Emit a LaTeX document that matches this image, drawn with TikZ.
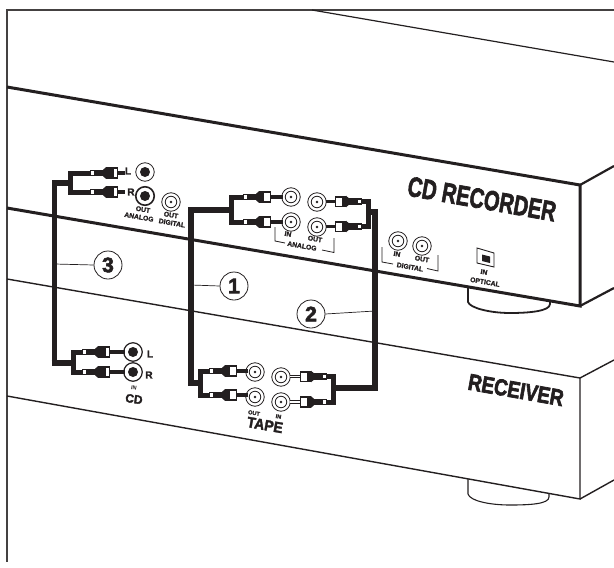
\documentclass[tikz,border=0pt]{standalone}
\usepackage{fontspec}
\setmainfont{Liberation Sans}
\definecolor{ink}{HTML}{231F20}
\newcommand{\plugpart}[5][ink]{%
  % #2 x0, #3 y, #4 direction, #5 wire length
  \begin{scope}[shift={(#2,#3)},xscale=#4]
    \fill[ink] (0,-3.2) rectangle (13,3.2);
    \fill[white] (1,-1.6) rectangle (4,1.6);
    \fill[ink] (13,-3.2) -- (16,-5.8) -- (16,5.8) -- (13,3.2) -- cycle;
    \fill[ink] (16,-5.8) rectangle (27.5,5.8);
    \fill[white] (20.5,-4) rectangle (26.5,4);
    \fill[ink] (27.5,-1.9) rectangle ({27.5+#5},1.9);
    \fill[#1] (27.5,-.7) rectangle ({27.5+#5},.7);
  \end{scope}}
\newcommand{\plugdark}[2]{\fill[ink] (#1+16,#2-5.8) rectangle (#1+24,#2+5.8);}
\newcommand{\ringjack}[2]{%
  \node[jackouter] (#1) at (#2) {};
  \node[jackinner] at (#1) {};
  \fill[ink] (#1) circle (1.4);}
\newcommand{\blackjack}[3]{%
  \node[jackouter,line width=#3] (#1) at (#2) {};
  \node[jackfill] at (#1) {};}
\newcommand{\strokeon}[1]{\special{pdf:code q 0.137 0.122 0.125 RG 2 Tr #1 w}}
\newcommand{\strokeoff}{\special{pdf:code Q}}
\tikzset{
  x=1pt,y=-1pt,
  thick text/.style={execute at begin node={\strokeon{#1}},execute at end node={\strokeoff}},
  jackouter/.style={circle,draw=ink,fill=white,line width=.8pt,minimum size=18.5pt,inner sep=0},
  jackinner/.style={circle,draw=ink,line width=.8pt,minimum size=11.5pt,inner sep=0},
  jackfill/.style={circle,fill=ink,minimum size=10pt,inner sep=0},
  frameline/.style={draw=ink!85,line width=1.6pt},
  heavy/.style={draw=ink,line width=3pt},
  medium/.style={draw=ink,line width=1.4pt},
  cable/.style={draw=ink,line width=5.6pt,line cap=butt,line join=miter},
  branch/.style={draw=ink,line width=5pt,line cap=butt,line join=miter},
  leader/.style={draw=ink,line width=.7pt},
  badge/.style={circle,draw=ink,fill=white,line width=.8pt,minimum size=28pt,inner sep=0,font=\bfseries\fontsize{21}{21}\selectfont,text=ink,thick text=.6},
  tiny/.style={inner sep=0,rotate=-10,text=ink,font=\bfseries\fontsize{6.8}{7}\selectfont,thick text=.12},
  tinier/.style={inner sep=0,rotate=-10,text=ink,font=\bfseries\fontsize{5.6}{6}\selectfont},
  brand/.style={inner sep=0,rotate=-10,text=ink,font=\bfseries,thick text=.7},
  lettermark/.style={inner sep=0,text=ink,font=\bfseries\fontsize{10}{10}\selectfont,thick text=.2},
  bracket/.style={draw=ink,line width=.8pt},
}
\begin{document}
\begin{tikzpicture}
\useasboundingbox (0,0) rectangle (614,568);
% frame
\draw[frameline] (614,10) -- (7,10) -- (7,562);
% CD recorder
\draw[draw=ink,line width=1.2pt] (312,10) -- (614,62);
\draw[heavy,line join=miter] (7,87) -- (580,185) -- (580,306) -- (7,208);
\draw[draw=ink,line width=2.2pt] (580,185) -- (614,166);
\draw[draw=ink,line width=2.2pt] (580,306) -- (614,288);
\draw[draw=ink,line width=1.8pt] (468,288) -- (468,302) .. controls (470,308) and (490,313) .. (510,313) .. controls (530,313) and (550,311) .. (550,304) -- (550,302);
% receiver
\draw[medium,line join=miter] (7,279) -- (580,378) -- (580,499) -- (7,396);
\draw[medium] (580,378) -- (614,360);
\draw[medium] (580,499) -- (614,480);
\draw[draw=ink,line width=1.1pt] (468,479) -- (468,494) .. controls (470,501) and (490,505) .. (510,505) .. controls (530,505) and (549,504) .. (549,497) -- (549,494);
% brand names
\node[brand] (cdname) at (482,199) {\fontsize{28}{28}\selectfont\scalebox{.72}[1]{CD RECORDER}};
\node[brand] (recname) at (516,390) {\fontsize{23}{23}\selectfont\scalebox{.82}[1]{RECEIVER}};
% jacks: recorder left
\blackjack{outL}{145,172}{.8pt}
\blackjack{outR}{145,196}{1.6pt}
\ringjack{outD}{171,202}
% recorder analog
\ringjack{anIa}{291,197}
\ringjack{anIb}{291,222}
\ringjack{anOa}{317,202}
\ringjack{anOb}{317,227}
% recorder digital
\ringjack{digI}{398,241}
\ringjack{digO}{422,246}
% receiver CD
\blackjack{cdL}{133,352}{1.2pt}
\blackjack{cdR}{133,372}{1.2pt}
% tape
\ringjack{tpOa}{255,372}
\ringjack{tpOb}{255,397}
\ringjack{tpIa}{281,377}
\ringjack{tpIb}{281,402}
% optical
\draw[draw=ink,line width=.9pt,fill=white] (477,248) -- (494,253) -- (494,267) -- (477,263) -- cycle;
\fill[ink] (482,254.5) -- (490,256.5) -- (490,263) -- (482,261) -- cycle;
% cable 3
\coordinate (c3top) at (54.5,183);
\coordinate (c3bot) at (54.5,363);
\coordinate (c3ta) at (70,173);
\coordinate (c3tb) at (70,192);
\coordinate (c3ba) at (73,352);
\coordinate (c3bb) at (73,372);
\draw[cable] (72,183) -- (51.7,183);
\draw[cable] (c3top) -- (c3bot);
\draw[cable] (51.7,363) -- (75,363);
\draw[branch] (91,173) -- (c3ta) -- (c3tb) -- (91,192);
\draw[branch] (83,352) -- (c3ba) -- (c3bb) -- (83,372);
\plugpart{90}{173}{1}{7}
\plugpart{90}{192}{1}{7}
\plugpart{82}{352}{1}{15}
\plugpart{82}{372}{1}{15}
\plugdark{90}{173}
\plugdark{90}{192}
\plugdark{82}{352}
\plugdark{82}{372}
% cable 1
\coordinate (c1top) at (191,210);
\coordinate (c1bot) at (191,383);
\draw[cable] (231,210) -- (c1top) -- (c1bot) -- (200,383);
\draw[branch] (244,197) -- (231,197) -- (231,222) -- (244,222);
\draw[branch] (210,371) -- (200,371) -- (200,395) -- (210,395);
\plugpart{243}{197}{1}{12}
\plugpart{243}{222}{1}{12}
\plugpart{209}{371}{1}{11}
\plugpart{209}{395}{1}{11}
% cable 2
\coordinate (c2top) at (375,212);
\coordinate (c2bot) at (375,388);
\draw[cable] (368,212) -- (c2top) -- (c2bot) -- (333,388);
\draw[branch] (361,201) -- (368,201) -- (368,226) -- (361,226);
\draw[branch] (326,376) -- (333,376) -- (333,402) -- (326,402);
\plugpart{362}{201.5}{-1}{9}
\plugpart{362}{226.5}{-1}{9}
\plugpart[white]{327}{376.5}{-1}{10}
\plugpart[white]{327}{402}{-1}{10}
% badges
\node[badge] (b3) at (108,265) {3};
\node[badge] (b1) at (234,286) {1};
\node[badge] (b2) at (311,314) {2};
\coordinate (l3) at (54.5,264);
\coordinate (l1) at (191,285);
\coordinate (l2) at (375,311);
\draw[leader] (b3.west) -- (l3);
\draw[leader] (b1.west) -- (l1);
\draw[leader] (b2.east) -- (l2);
% brackets
\coordinate (ba1) at (275,227);
\coordinate (ba2) at (275,241);
\coordinate (ba3) at (285,243);
\coordinate (ba4) at (322,250);
\coordinate (ba5) at (334,252.5);
\coordinate (ba6) at (334,238);
\draw[bracket] (ba1) -- (ba2) -- (ba3);
\draw[bracket] (ba4) -- (ba5) -- (ba6);
\coordinate (bd1) at (382,247);
\coordinate (bd2) at (382,262);
\coordinate (bd3) at (393,264);
\coordinate (bd4) at (427,268.5);
\coordinate (bd5) at (438,271);
\coordinate (bd6) at (438,255);
\draw[bracket] (bd1) -- (bd2) -- (bd3);
\draw[bracket] (bd4) -- (bd5) -- (bd6);
% labels
\node[lettermark] (tL) at (128,171) {L};
\node[lettermark] (tR) at (131,192) {R};
\node[tiny] (t1) at (143,209.5) {OUT};
\node[tiny] (t2) at (139,217) {ANALOG};
\node[tiny] (t3) at (171,215) {OUT};
\node[tiny] (t4) at (172,223) {DIGITAL};
\node[tiny] (t5) at (288,234) {IN};
\node[tiny] (t6) at (315,239) {OUT};
\node[tiny] (t7) at (302,246) {ANALOG};
\node[tiny] (t8) at (397,254) {IN};
\node[tiny] (t9) at (422,259) {OUT};
\node[tiny] (t10) at (410,267) {DIGITAL};
\node[tiny] (t11) at (484,272) {IN};
\node[tiny] (t12) at (485,282) {OPTICAL};
\node[lettermark] (t13) at (150,354) {L};
\node[lettermark] (t14) at (149,375) {R};
\node[tinier] (t15) at (134,388) {IN};
\node[inner sep=0,rotate=-8,text=ink,thick text=.3,font=\bfseries\fontsize{12}{12}\selectfont] (t16) at (134,399) {CD};
\node[tinier,thick text=.1] (t17) at (254,413) {OUT};
\node[tinier,thick text=.1] (t18) at (278.5,416.5) {IN};
\node[inner sep=0,rotate=-10,text=ink,thick text=.35,font=\bfseries\fontsize{15}{15}\selectfont] (t19) at (265,425) {\scalebox{.93}[1]{TAPE}};
\end{tikzpicture}
\end{document}
